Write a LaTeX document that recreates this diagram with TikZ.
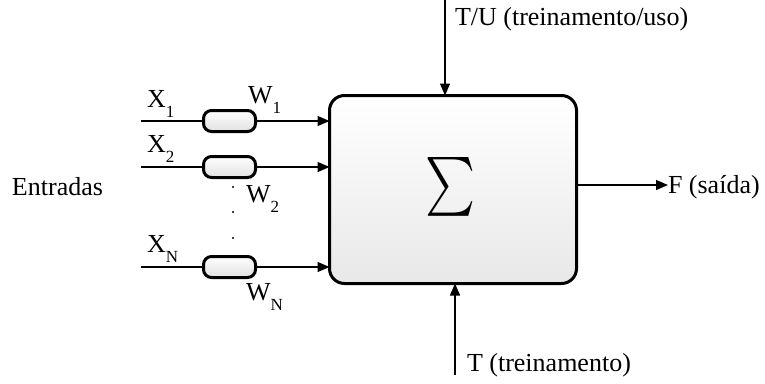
\documentclass[tikz,border=0pt]{standalone}
\usepackage{fontspec}
\setmainfont{Liberation Serif}
\usetikzlibrary{arrows.meta}
\newcommand\lbsub[2]{#1\raisebox{-10pt}{\fontsize{17}{17}\selectfont #2}}
\begin{document}
\begin{tikzpicture}[x=1pt,y=-1pt,
  every node/.style={font=\fontsize{26}{30}\selectfont, inner sep=0pt, outer sep=0pt},
  thinline/.style={line width=1.3pt},
  arr/.style={thinline, -{Triangle[length=12pt,width=10pt]}},
  sumbox/.style={draw, line width=3pt, rounded corners=15pt, minimum width=247pt, minimum height=188pt, top color=white, bottom color=black!9},
  wbox/.style={draw, line width=3pt, rounded corners=8pt, minimum width=52pt, minimum height=21pt, top color=white, bottom color=black!12},
  dot/.style={circle, fill=black, minimum size=2.2pt}
]
\useasboundingbox (0,0) rectangle (765,383);
% main box
\node[sumbox] (sum) at (453,189.5) {};
\node (sig) at (450,190) {\resizebox{50pt}{66pt}{$\sum$}};
% weight boxes
\node[wbox] (w1) at (229.5,121) {};
\node[wbox] (w2) at (229.5,167) {};
\node[wbox] (wN) at (229.5,267) {};
% input starts
\coordinate (x1) at (141,121);
\coordinate (x2) at (141,167);
\coordinate (xN) at (141,267);
\draw[thinline] (x1) -- (w1.west);
\draw[thinline] (x2) -- (w2.west);
\draw[thinline] (xN) -- (wN.west);
\draw[arr] (w1.east) -- (w1.east -| sum.west);
\draw[arr] (w2.east) -- (w2.east -| sum.west);
\draw[arr] (wN.east) -- (wN.east -| sum.west);
% labels
\node[anchor=base west] (lx1) at (147,107) {\lbsub{X}{1}};
\node[anchor=base west] (lx2) at (147,152) {\lbsub{X}{2}};
\node[anchor=base west] (lxN) at (147,252) {\lbsub{X}{N}};
\node[anchor=base west] (lw1) at (248,103) {\lbsub{W}{1}};
\node[anchor=base west] (lw2) at (246,202) {\lbsub{W}{2}};
\node[anchor=base west] (lwN) at (246,300) {\lbsub{W}{N}};
\node[dot] (d1) at (233,187) {};
\node[dot] (d2) at (233,212) {};
\node[dot] (d3) at (233,238) {};
\node[anchor=base west] (ent) at (12,195) {Entradas};
% top input
\coordinate (tu) at (445,0);
\draw[arr] (tu) -- (tu |- sum.north);
\node[anchor=base west] (ltu) at (455,25) {T/U (treinamento/uso)};
% bottom input
\coordinate (tt) at (455,375);
\draw[arr] (tt) -- (tt |- sum.south);
\node[anchor=base west] (ltt) at (467,371) {T (treinamento)};
% output
\node[anchor=base west] (out) at (668,193) {F (saída)};
\draw[arr] (sum.east |- 0,185) -- (out.west |- 0,185);
\end{tikzpicture}
\end{document}
